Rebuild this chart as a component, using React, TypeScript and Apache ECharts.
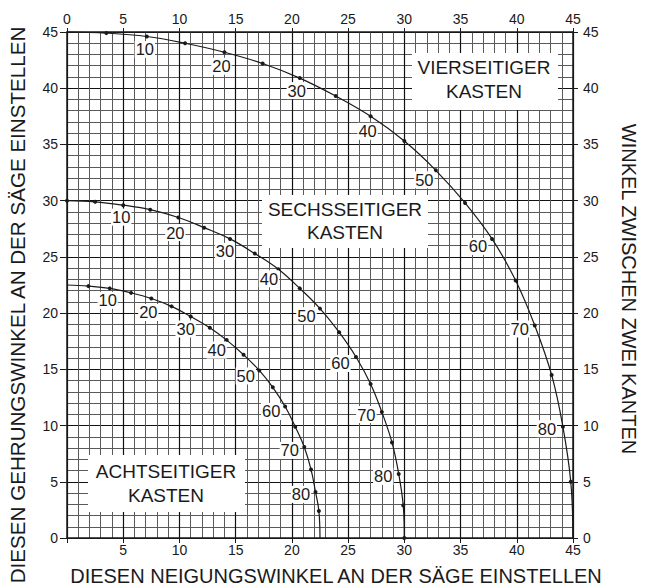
import React, { useEffect, useRef } from 'react';
import * as echarts from 'echarts';

// Slope angle of the box sides (degrees), one point every 5°
const slopeAngles = [0, 5, 10, 15, 20, 25, 30, 35, 40, 45, 50, 55, 60, 65, 70, 75, 80, 85, 90];

// Four-sided box: blade tilt (x) and miter angle (y)
const fourSidedBevel = [0, 3.5, 7.1, 10.5, 14.0, 17.4, 20.7, 23.9, 27.0, 30.0, 32.8, 35.4, 37.8, 39.9, 41.6, 43.1, 44.1, 44.8, 45];
const fourSidedMiter = [45, 44.9, 44.6, 44.0, 43.2, 42.2, 40.9, 39.3, 37.5, 35.3, 32.7, 29.8, 26.6, 22.9, 18.9, 14.5, 9.9, 5.0, 0];

// Six-sided box
const sixSidedBevel = [0, 2.5, 5.0, 7.4, 9.9, 12.2, 14.5, 16.7, 18.8, 20.7, 22.5, 24.2, 25.7, 27.0, 28.0, 28.9, 29.5, 29.9, 30];
const sixSidedMiter = [30, 29.9, 29.6, 29.2, 28.5, 27.6, 26.6, 25.3, 23.9, 22.2, 20.4, 18.3, 16.1, 13.7, 11.2, 8.5, 5.7, 2.9, 0];

// Eight-sided box
const eightSidedBevel = [0, 1.9, 3.8, 5.7, 7.5, 9.3, 11.0, 12.7, 14.2, 15.7, 17.1, 18.3, 19.4, 20.3, 21.1, 21.7, 22.1, 22.4, 22.5];
const eightSidedMiter = [22.5, 22.4, 22.2, 21.8, 21.3, 20.6, 19.7, 18.7, 17.6, 16.3, 14.9, 13.4, 11.7, 9.9, 8.1, 6.1, 4.1, 2.4, 0];

// Angles that carry a number label on each curve
const curveLabelAngles = [10, 20, 30, 40, 50, 60, 70, 80];

// Label offsets (pixels from the dot) — layout only
const fourLabelOffsets = [[-2, 13], [-3, 14], [-3, 12.5], [-3, 15], [-11.5, 9.5], [-14, 7.5], [-15, 3.5], [-16, 2]];
const sixLabelOffsets = [[-2, 12], [-3, 15], [-5, 12.5], [-9.5, 9.5], [-13.5, 7], [-15.5, 6.5], [-15.5, 2.5], [-15.5, 2.5]];
const eightLabelOffsets = [[-2, 12], [-3, 14], [-5, 12.5], [-10, 10], [-13.5, 5.5], [-14, 5], [-14.5, 3.5], [-14.5, 2.5]];

const boxTitles = ['VIERSEITIGER\nKASTEN', 'SECHSSEITIGER\nKASTEN', 'ACHTSEITIGER\nKASTEN'];
const xTitle = 'DIESEN NEIGUNGSWINKEL AN DER SÄGE EINSTELLEN';
const yTitle = 'DIESEN GEHRUNGSWINKEL AN DER SÄGE EINSTELLEN';
const rightTitle = 'WINKEL ZWISCHEN ZWEI KANTEN';

const FONT = '"Liberation Sans", Arial, Helvetica, sans-serif';
const INK = '#1a1a1a';

const curveLabelStyle = {
  show: true,
  position: 'inside',
  fontSize: 16.5,
  color: INK,
  fontFamily: FONT,
  backgroundColor: '#ffffff',
  padding: [0, 1, 0, 1],
};

function buildSeries(name: string, bevel: number[], miter: number[], offsets: number[][], endDots: boolean) {
  return {
    type: 'line',
    name,
    xAxisIndex: 0,
    yAxisIndex: 0,
    smooth: 0.4,
    symbol: 'circle',
    symbolSize: 4,
    showSymbol: true,
    showAllSymbol: true,
    silent: true,
    clip: false,
    z: 5,
    emphasis: { disabled: true },
    itemStyle: { color: INK },
    lineStyle: { color: INK, width: 1.2 },
    label: { ...curveLabelStyle, show: false },
    labelLayout: (params: any) => {
      const a = slopeAngles[params.dataIndex];
      const li = curveLabelAngles.indexOf(a);
      if (li < 0) return {};
      return { dx: offsets[li][0], dy: offsets[li][1], hideOverlap: false };
    },
    data: slopeAngles.map((a, i) => {
      const item: any = { value: [bevel[i], miter[i]] };
      const isEnd = i === 0 || i === slopeAngles.length - 1;
      if (isEnd && !endDots) item.symbolSize = 0;
      const li = curveLabelAngles.indexOf(a);
      if (li >= 0) {
        item.label = { ...curveLabelStyle, formatter: String(a) };
      }
      return item;
    }),
  };
}

export default function App() {
  const ref = useRef<HTMLDivElement>(null);

  useEffect(() => {
    document.body.style.margin = '0';
    if (!ref.current) return;
    const chart = echarts.init(ref.current, undefined, { renderer: 'svg' });

    const axisLabelStyle = { fontSize: 14, color: INK, fontFamily: FONT };

    const boxText = (x: number, y: number, text: string) => ({
      type: 'text',
      x,
      y,
      z: 101,
      silent: true,
      style: {
        text,
        fill: INK,
        font: `19px ${FONT}`,
        textAlign: 'center',
        textVerticalAlign: 'middle',
        lineHeight: 23.5,
      },
    });
    const boxRect = (x: number, y: number, w: number, h: number) => ({
      type: 'rect',
      z: 100,
      silent: true,
      shape: { x, y, width: w, height: h },
      style: { fill: '#ffffff' },
    });

    chart.setOption({
      animation: false,
      grid: { left: 67, top: 32, width: 506, height: 506, containLabel: false },
      xAxis: [
        {
          type: 'value',
          position: 'bottom',
          min: 0,
          max: 45,
          interval: 5,
          axisLine: { show: true, onZero: false, lineStyle: { color: INK, width: 1.5 } },
          axisTick: { show: true, length: 5, inside: false, lineStyle: { color: INK, width: 1 } },
          axisLabel: { ...axisLabelStyle, margin: 5, formatter: (v: number) => (v === 0 ? '' : String(v)) },
          splitLine: { show: true, lineStyle: { color: '#111111', width: 1.2 } },
          minorTick: { show: false, splitNumber: 5 },
          minorSplitLine: { show: true, lineStyle: { color: '#5a5a5a', width: 1 } },
        },
        {
          type: 'value',
          position: 'top',
          min: 0,
          max: 45,
          interval: 5,
          axisLine: { show: true, onZero: false, lineStyle: { color: INK, width: 1.5 } },
          axisTick: { show: true, length: 4, inside: false, lineStyle: { color: INK, width: 1 } },
          axisLabel: { ...axisLabelStyle, margin: 6 },
          splitLine: { show: false },
        },
      ],
      yAxis: [
        {
          type: 'value',
          position: 'left',
          min: 0,
          max: 45,
          interval: 5,
          axisLine: { show: true, onZero: false, lineStyle: { color: INK, width: 1.5 } },
          axisTick: { show: true, length: 7, inside: false, lineStyle: { color: INK, width: 1 } },
          axisLabel: { ...axisLabelStyle, margin: 9 },
          splitLine: { show: true, lineStyle: { color: '#111111', width: 1.2 } },
          minorTick: { show: false, splitNumber: 5 },
          minorSplitLine: { show: true, lineStyle: { color: '#5a5a5a', width: 1 } },
        },
        {
          type: 'value',
          position: 'right',
          min: 0,
          max: 45,
          interval: 5,
          axisLine: { show: true, onZero: false, lineStyle: { color: INK, width: 1.5 } },
          axisTick: { show: true, length: 5, inside: false, lineStyle: { color: INK, width: 1 } },
          axisLabel: { ...axisLabelStyle, margin: 10 },
          splitLine: { show: false },
        },
      ],
      series: [
        buildSeries('Vierseitiger Kasten', fourSidedBevel, fourSidedMiter, fourLabelOffsets, false),
        buildSeries('Sechsseitiger Kasten', sixSidedBevel, sixSidedMiter, sixLabelOffsets, true),
        buildSeries('Achtseitiger Kasten', eightSidedBevel, eightSidedMiter, eightLabelOffsets, false),
      ],
      graphic: [
        boxRect(412, 53, 146, 57),
        boxText(484, 79.5, boxTitles[0]),
        boxRect(262, 195, 166, 53),
        boxText(345, 221, boxTitles[1]),
        boxRect(88, 455, 157, 57),
        boxText(166, 483.5, boxTitles[2]),
        {
          type: 'text',
          x: 336,
          y: 576,
          silent: true,
          style: { text: xTitle, fill: INK, font: `20px ${FONT}`, textAlign: 'center', textVerticalAlign: 'middle' },
        },
        {
          type: 'text',
          x: 17,
          y: 305,
          rotation: Math.PI / 2,
          silent: true,
          style: { text: yTitle, fill: INK, font: `20.6px ${FONT}`, textAlign: 'center', textVerticalAlign: 'middle' },
        },
        {
          type: 'text',
          x: 629,
          y: 289,
          rotation: -Math.PI / 2,
          silent: true,
          style: { text: rightTitle, fill: INK, font: `20px ${FONT}`, textAlign: 'center', textVerticalAlign: 'middle' },
        },
      ],
    });

    return () => chart.dispose();
  }, []);

  return (
    <div
      ref={ref}
      style={{ position: 'absolute', left: 0, top: 0, width: 646, height: 588, background: '#ffffff' }}
    />
  );
}
